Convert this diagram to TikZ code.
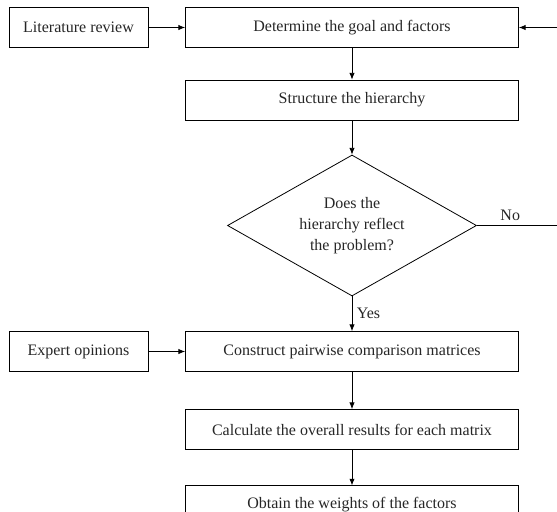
\documentclass[tikz,border=0pt]{standalone}
\usepackage{fontspec}
\setmainfont{Liberation Serif}
\usepackage{tikz}
\usetikzlibrary{arrows.meta,shapes.geometric,positioning}

\begin{document}
\begin{tikzpicture}[x=0.75pt,y=-0.75pt,>={Latex[length=5pt,width=4pt]},
  every node/.style={font=\fontsize{12}{15.75}\selectfont,text=black!85},
  caja/.style={draw,line width=0.6pt,minimum height=30pt,inner sep=2pt},
  lado/.style={caja,minimum width=104.25pt},
  paso/.style={caja,minimum width=249.75pt},
  pregunta/.style={draw,line width=0.6pt,diamond,aspect=1.77,inner sep=0pt,
    minimum width=186.75pt,minimum height=105.75pt,align=center},
  flecha/.style={->,line width=0.6pt}]
  \clip (0,0) rectangle (557,511);
  % bloques
  \node[lado] (lit) at (78.5,27.5) {Literature review};
  \node[paso] (goal) at (352,27.5) {Determine the goal and factors};
  \node[paso] (hier) at (352,100) {Structure the hierarchy};
  \node[pregunta] (check) at (352,225.5) {Does the\\hierarchy reflect\\the problem?};
  \node[lado] (expert) at (78.5,351.5) {Expert opinions};
  \node[paso] (pair) at (352,351.5) {Construct pairwise comparison matrices};
  \node[paso] (calc) at (352,429.5) {Calculate the overall results for each matrix};
  \node[paso,minimum height=28pt] (weights) at (352,504.5) {Obtain the weights of the factors};
  % vuelta por la derecha
  \coordinate (noA) at (575,225.5);
  \coordinate (noB) at (575,27.5);
  % conexiones
  \draw[flecha] (lit) -- (goal);
  \draw[flecha] (goal) -- (hier);
  \draw[flecha] (hier) -- (check);
  \draw[line width=0.6pt] (check.east) -- (noA) node[pos=0.34,above] {No};
  \draw[flecha] (noA) -- (noB) -- (goal.east);
  \draw[flecha] (check.south) -- (pair.north) node[midway,right] {Yes};
  \draw[flecha] (expert) -- (pair);
  \draw[flecha] (pair) -- (calc);
  \draw[flecha] (calc) -- (weights);
\end{tikzpicture}
\end{document}
